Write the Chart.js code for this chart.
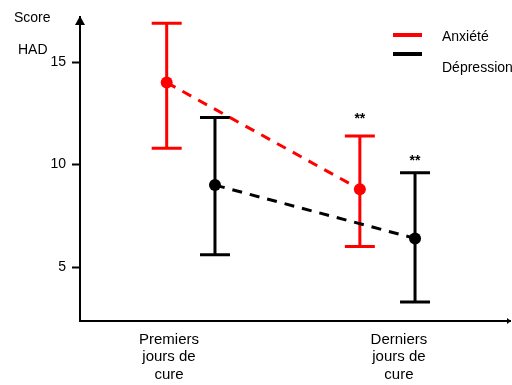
<!DOCTYPE html>
<html>
<head>
<meta charset="utf-8">
<script src="https://cdn.jsdelivr.net/npm/chart.js@4"></script>
<style>
  html, body { margin: 0; padding: 0; background: #fff; }
  #wrap { width: 512px; height: 385px; }
</style>
</head>
<body>
<div id="wrap"><canvas id="chart"></canvas></div>
<script>
const categories = [["Premiers", "jours de", "cure"], ["Derniers", "jours de", "cure"]];
const categoryPos = [1, 2];
const yTicks = [5, 10, 15];

// Anxiété
const anxX = [0.99, 1.83];
const anxMean = [14.0, 8.8];
const anxLow = [10.8, 6.0];
const anxHigh = [16.9, 11.4];

// Dépression
const depX = [1.2, 2.07];
const depMean = [9.0, 6.4];
const depLow = [5.6, 3.3];
const depHigh = [12.3, 9.6];

const signif = ["", "**"];

const FONT = "'Liberation Sans', Arial, sans-serif";

const overlay = {
  id: "overlay",
  beforeDatasetsDraw(chart) {
    const ctx = chart.ctx;
    const xs = chart.scales.x, ys = chart.scales.y;
    const series = [
      { x: anxX, lo: anxLow, hi: anxHigh, color: "#ff0000" },
      { x: depX, lo: depLow, hi: depHigh, color: "#000000" },
    ];
    ctx.save();
    series.forEach((s) => {
      ctx.strokeStyle = s.color;
      ctx.lineWidth = 3;
      s.x.forEach((xv, i) => {
        const px = xs.getPixelForValue(xv);
        const top = ys.getPixelForValue(s.hi[i]);
        const bot = ys.getPixelForValue(s.lo[i]);
        ctx.beginPath();
        ctx.moveTo(px, top); ctx.lineTo(px, bot);
        ctx.moveTo(px - 15, top); ctx.lineTo(px + 15, top);
        ctx.moveTo(px - 15, bot); ctx.lineTo(px + 15, bot);
        ctx.stroke();
      });
    });
    ctx.restore();
  },
  afterDraw(chart) {
    const ctx = chart.ctx;
    const a = chart.chartArea;
    const xs = chart.scales.x, ys = chart.scales.y;
    ctx.save();
    ctx.fillStyle = "#000";
    // axis arrows
    ctx.beginPath();
    ctx.moveTo(a.left, a.top - 1);
    ctx.lineTo(a.left - 5, a.top + 8);
    ctx.lineTo(a.left + 5, a.top + 8);
    ctx.fill();
    ctx.beginPath();
    ctx.moveTo(a.right + 1, a.bottom);
    ctx.lineTo(a.right - 3, a.bottom - 3);
    ctx.lineTo(a.right - 3, a.bottom + 3);
    ctx.fill();

    // axis title
    ctx.font = "14px " + FONT;
    ctx.textBaseline = "middle";
    ctx.textAlign = "left";
    ctx.fillText("Score", 14, 18);
    ctx.fillText("HAD", 18, 50);

    // significance marks
    ctx.font = "bold 14px " + FONT;
    ctx.textAlign = "center";
    signif.forEach((t, i) => {
      if (!t) return;
      ctx.fillText(t, xs.getPixelForValue(anxX[i]), ys.getPixelForValue(anxHigh[i]) - 17);
      ctx.fillText(t, xs.getPixelForValue(depX[i]), ys.getPixelForValue(depHigh[i]) - 12);
    });

    // legend
    ctx.lineWidth = 4;
    ctx.strokeStyle = "#ff0000";
    ctx.beginPath(); ctx.moveTo(393, 35); ctx.lineTo(422, 35); ctx.stroke();
    ctx.strokeStyle = "#000";
    ctx.beginPath(); ctx.moveTo(393, 54); ctx.lineTo(422, 54); ctx.stroke();
    ctx.font = "14px " + FONT;
    ctx.textAlign = "left";
    ctx.fillText("Anxiété", 442, 37);
    ctx.fillText("Dépression", 442, 68);
    ctx.restore();
  },
};

new Chart(document.getElementById("chart"), {
  type: "scatter",
  data: {
    datasets: [
      {
        label: "Anxiété",
        data: anxX.map((x, i) => ({ x: x, y: anxMean[i] })),
        showLine: true,
        borderColor: "#ff0000",
        backgroundColor: "#ff0000",
        borderWidth: 3,
        borderDash: [10, 8],
        pointRadius: 6,
        pointBorderWidth: 0,
      },
      {
        label: "Dépression",
        data: depX.map((x, i) => ({ x: x, y: depMean[i] })),
        showLine: true,
        borderColor: "#000000",
        backgroundColor: "#000000",
        borderWidth: 3,
        borderDash: [10, 8],
        pointRadius: 6,
        pointBorderWidth: 0,
      },
    ],
  },
  options: {
    responsive: true,
    maintainAspectRatio: false,
    animation: false,
    layout: { autoPadding: false, padding: { top: 17, right: 2, left: 0, bottom: 0 } },
    plugins: {
      legend: { display: false },
      tooltip: { enabled: false },
    },
    scales: {
      x: {
        type: "linear",
        min: 0.613,
        max: 2.483,
        afterBuildTicks: (s) => { s.ticks = categoryPos.map((v) => ({ value: v })); },
        afterFit: (s) => { s.height = 64; s.paddingLeft = 0; s.paddingRight = 0; },
        ticks: {
          callback: (v) => categories[categoryPos.indexOf(v)],
          font: { size: 15, family: FONT, lineHeight: 1.17 },
          color: "#000",
          padding: 10,
          autoSkip: false,
          maxRotation: 0,
        },
        grid: { drawOnChartArea: false, drawTicks: false },
        border: { color: "#000", width: 2 },
      },
      y: {
        min: 2.37,
        max: 17.2,
        afterBuildTicks: (s) => { s.ticks = yTicks.map((v) => ({ value: v })); },
        afterFit: (s) => { s.width = 80; s.paddingTop = 0; s.paddingBottom = 0; },
        ticks: {
          font: { size: 14, family: FONT },
          color: "#000",
          padding: 6,
        },
        grid: { drawOnChartArea: false, drawTicks: true, tickLength: 8, color: "#000", tickWidth: 2 },
        border: { color: "#000", width: 2 },
      },
    },
  },
  plugins: [overlay],
});
</script>
</body>
</html>
